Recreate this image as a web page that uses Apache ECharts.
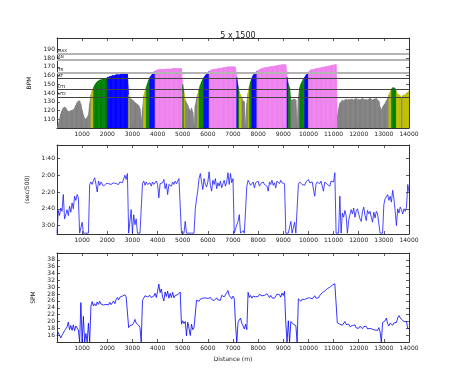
<!DOCTYPE html>
<html><head><meta charset="utf-8">
<script src="https://cdn.jsdelivr.net/npm/echarts@6/dist/echarts.min.js"></script>
<style>html,body{margin:0;padding:0;background:#fff}#c{width:455px;height:380px}</style>
</head><body><div id="c"></div>
<script>
// sample spacing (metres) of the series below
const STEP = 50;

// heart rate (bpm), one value every 50 m from 0 to 14000 m
const hr = [
100,104,110,116,120,123,124,123,120,119,119,120,120,121,123,126,129,131,131,127,
120,115,111,110,112,115,128,138,143,146,149,151,153,154,155,155,156,156,156,156,
158,158,159,159,160,160,160,161,161,161,161,162,162,162,162,163,163,138,134,133,
132,131,129,128,127,126,122,106,122,137,142,147,151,155,158,160,162,163,165,166,
166.5,167,167,167,167,167,167,167.5,167.5,167.5,167.5,167.5,168,168,168,168,168,168,168,168,
150,140,132,129,126,122,119,123,118,100,126,133,139,144,149,153,155.5,158,160,162,
163,165,166,166.5,167,167,167.5,167.5,168,168,168.5,168.5,169,169,169.5,169.5,170,170,170,170,
170,170,169.5,158,148,140,138,134,131,130,101,128,140,147,153,157,160,162,163,165,
166,167,167.5,168,168.5,169,169,169.5,169.5,170,170,170.5,170.5,171,171,171.5,171.5,172,172,172.5,
172.5,172.5,172.5,158,150,146,131,132,133,133,132,101,135,146,150,153,156,158,160,162,
164,165.5,166.5,167,167,167.5,168,168,168.5,168.5,169,169.5,169.5,170,170,170.5,171,171,171.5,172,
172,172.5,172.5,112,122,128,130,132,131,132,133,132,133,132,133,133,132,133,134,132,
133,132,133,134,133,132,133,132,133,134,133,132,133,133,134,132,131,124,120,124,
126,128,131,134,138,141,144.5,146,146,145,141,139,138,137,134,137,138,138,139,141,
142];

// pace (seconds per 500 m), every 50 m
const pace = [
189,162,168,159,163,143,172,167,161,168,157,164,153,160,145,150,143,147,189,189,
176,189,189,189,189,189,131,128,131,126,123,131,140,127,132,128,130,133,131,130,
131,130,128,131,130,129,131,130,129,131,128,126,129,127,120,125,118,189,189,161,
189,167,179,172,189,189,189,189,130,127,132,128,131,130,129,133,128,131,129,127,
131,147,130,132,129,125,136,130,143,131,129,133,128,131,127,130,128,124,126,189,
189,189,175,189,189,189,189,189,189,189,160,148,138,124,118,128,137,124,131,134,
128,116,132,139,126,131,124,136,129,133,127,135,130,126,133,128,117,131,118,129,
124,189,189,179,175,167,189,189,186,189,189,133,126,129,132,130,128,135,129,131,
127,133,130,132,128,131,129,133,139,128,131,126,132,129,135,127,125,130,126,129,
131,130,189,189,189,189,175,189,189,176,189,189,131,128,127,131,129,132,128,130,
125,129,131,128,130,145,131,128,126,130,127,129,139,128,126,131,129,133,127,125,
128,117,189,189,189,145,189,165,170,162,168,189,174,167,161,166,159,170,163,160,
166,172,175,163,158,168,174,162,166,163,170,176,164,171,163,166,165,189,189,189,
155,148,147,143,150,145,152,138,148,163,180,160,165,158,161,166,160,163,158,131,
140];

// stroke rate (strokes per minute), every 50 m
const spm = [
15.8,16.8,16.0,15.2,16.0,16.6,17.3,17.8,18.4,19.8,17.6,18.8,17.4,19.0,17.3,18.7,19.2,17.5,14,25.5,
14,21.5,14,16.5,14,19.5,14,24.5,25.8,24.5,25.2,24.6,25.7,25.0,25.9,25.1,25.4,24.8,25.3,25.0,
25.4,24.8,25.6,24.9,24.5,26.0,25.2,26.4,27.0,26.3,27.1,26.6,27.4,26.9,27.8,27.2,27.6,18.2,18.8,19.2,
19.0,19.6,20.6,19.5,19.9,18.9,18.2,14,26.2,26.8,27.5,28.0,27.2,26.8,27.6,27.0,26.6,27.4,28.2,27.0,
28.8,30.9,28.4,29.5,27.2,26.0,28.6,27.3,28.9,26.8,28.2,27.0,28.5,26.9,27.6,27.2,27.8,27.5,28.6,19.2,
20.2,19.4,20.0,15.8,19.8,18.0,15.9,19.2,17.6,18.2,17.8,26.2,26.6,25.9,26.5,26.2,26.8,26.3,26.9,26.4,
26.7,26.2,27.0,26.4,26.8,26.1,26.6,26.9,26.3,26.7,26.2,27.6,28.0,27.2,27.8,28.4,29.0,27.6,28.1,26.6,
27.4,26.8,19.2,14,19.7,20.4,21.0,19.5,18.7,17.8,19.2,17.6,28.5,27.0,27.6,26.8,27.4,27.9,27.2,27.7,
27.3,27.9,28.2,27.5,28.0,27.6,27.2,28.1,27.7,27.0,27.6,26.9,27.4,26.8,27.2,28.0,27.5,27.8,27.1,28.3,
27.6,28.8,19.5,14,20.2,14,20.0,19.8,19.2,19.4,18.8,14,26.6,26.2,25.9,26.5,26.0,26.4,26.2,26.8,
26.4,26.9,27.2,26.6,27.0,27.5,26.8,27.3,26.9,27.6,28.0,28.4,28.1,28.9,29.0,29.6,29.3,30.0,30.2,30.6,
31.0,31.0,31.1,19.6,19.9,19.2,19.6,18.9,19.4,20.0,19.1,18.7,19.2,18.5,18.2,18.8,18.4,19.0,18.1,18.5,
18.0,18.6,18.2,17.9,18.5,18.1,18.6,17.8,18.3,18.0,18.4,17.7,18.2,17.5,17.9,17.4,18.2,17.0,14,19.7,
19.6,20.2,21.0,19.4,18.7,19.5,19.2,18.9,19.6,19.1,19.7,21.0,21.7,21.2,20.6,20.4,20.0,19.7,20.0,18.0,
17.8];

// tick labels
const distTicks = [1000,2000,3000,4000,5000,6000,7000,8000,9000,10000,11000,12000,13000,14000];
const hrTicks = [110,120,130,140,150,160,170,180,190];
const paceTicks = [100,120,140,160,180];
const paceTickLabels = ['1:40','2:00','2:20','2:40','3:00'];
const spmTicks = [16,18,20,22,24,26,28,30,32,34,36,38];

// heart-rate zones
const zoneNames = ['UT2','UT1','AT','TR','AN','MAX'];
const zoneValues = [135.3,144,156.5,163.5,178,185];
const zoneFill = ['#808080','#bfbf00','#008000','#0000ff','#ee82ee','#ff0000','#ff0000'];

const HR_MIN = 100, HR_MAX = 203;
const AX = '#333', TXT = '#222', FONT = 'DejaVu Sans';

function zoneColor(v){
  for (let k = 0; k < zoneValues.length; k++) if (v < zoneValues[k]) return zoneFill[k];
  return zoneFill[zoneFill.length-1];
}

function xAx(g, top, named){
  const a = {
    type:'value', gridIndex:g, min:0, max:14000, position: top ? 'top' : 'bottom',
    axisLine:{show:true, onZero:false, lineStyle:{color:AX, width:1}},
    axisTick:{show:true, inside:true, length:3, customValues:distTicks, lineStyle:{color:AX, width:0.8}},
    axisLabel:{show:!top, customValues:distTicks, fontSize:6, color:TXT, margin:3, fontFamily:FONT,
      formatter: v => String(v)},
    splitLine:{show:false}
  };
  if (named){ a.name='Distance (m)'; a.nameLocation='middle'; a.nameGap=14;
    a.nameTextStyle={fontSize:6, color:TXT, fontFamily:FONT}; }
  return a;
}
function yAx(g, right, min, max, ticks, opts){
  const a = {
    type:'value', gridIndex:g, min:min, max:max, position: right ? 'right' : 'left',
    inverse: !!(opts && opts.inverse),
    axisLine:{show:true, onZero:false, lineStyle:{color:AX, width:1}},
    axisTick:{show:true, inside:true, length:3, customValues:ticks, lineStyle:{color:AX, width:0.8}},
    axisLabel:{show:!right, customValues:ticks, fontSize:6, color:TXT, margin:2, fontFamily:FONT,
      formatter: v => String(v)},
    splitLine:{show:false}
  };
  if (opts && opts.formatter) a.axisLabel.formatter = opts.formatter;
  if (!right && opts && opts.name){ a.name = opts.name; a.nameLocation='middle'; a.nameGap = opts.gap;
    a.nameTextStyle = {fontSize:6, color:TXT, fontFamily:FONT}; }
  return a;
}

const hrPolys = [];
for (let i = 0; i < hr.length-1; i++) hrPolys.push([i*STEP, hr[i], (i+1)*STEP, hr[i+1]]);

const chart = echarts.init(document.getElementById('c'), null, {renderer:'canvas'});
chart.setOption({
  animation:false,
  backgroundColor:'#fff',
  title:{text:'5 x 1500', left:233, top:27, textAlign:'center',
    textStyle:{fontSize:8, fontWeight:'normal', color:TXT, fontFamily:FONT}},
  grid:[
    {left:57, top:38, width:352, height:90},
    {left:57, top:145, width:352, height:89},
    {left:57, top:253, width:352, height:89}
  ],
  xAxis:[xAx(0,false), xAx(1,false), xAx(2,false,true), xAx(0,true), xAx(1,true), xAx(2,true)],
  yAxis:[
    yAx(0,false,HR_MIN,HR_MAX,hrTicks,{name:'BPM', gap:17}),
    yAx(1,false,84,190,paceTicks,{name:'(sec/500)', gap:20, inverse:true,
      formatter:v => paceTickLabels[paceTicks.indexOf(v)] || ''}),
    yAx(2,false,14,40,spmTicks,{name:'SPM', gap:13}),
    yAx(0,true,HR_MIN,HR_MAX,hrTicks),
    yAx(1,true,84,190,paceTicks,{inverse:true}),
    yAx(2,true,14,40,spmTicks)
  ],
  series:[
    {
      type:'custom', xAxisIndex:0, yAxisIndex:0, silent:true, clip:true,
      data: hrPolys, encode:{x:[0,2], y:[1,3]},
      renderItem:(params, api) => {
        const x0 = api.value(0), y0 = api.value(1), x1 = api.value(2), y1 = api.value(3);
        const col = zoneColor(y0);
        return {type:'polygon', shape:{points:[
          api.coord([x0,HR_MIN]), api.coord([x0,y0]), api.coord([x1,y1]), api.coord([x1,HR_MIN])]},
          style:{fill:col, stroke:col, lineWidth:0.6}};
      }
    },
    {
      type:'line', xAxisIndex:0, yAxisIndex:0, data:[], silent:true, z:5,
      markLine:{
        silent:true, symbol:['none','none'], animation:false,
        label:{show:true, position:'insideStartTop', formatter:'{b}', fontSize:4, color:TXT, distance:[1,1], fontFamily:FONT},
        data: zoneNames.map((n,i) => ({name:n, yAxis:zoneValues[i],
          lineStyle:{type:'solid', color: i>=3 ? '#b4b4b4' : '#444', width: i>=3 ? 2 : 1}}))
      }
    },
    {
      type:'line', xAxisIndex:1, yAxisIndex:1, silent:true, symbol:'none', clip:true,
      data: pace.map((v,i) => [i*STEP, v]),
      lineStyle:{color:'#1a1aff', width:0.8}
    },
    {
      type:'line', xAxisIndex:2, yAxisIndex:2, silent:true, symbol:'none', clip:true,
      data: spm.map((v,i) => [i*STEP, v]),
      lineStyle:{color:'#0000ff', width:0.8}
    }
  ]
});
</script>
</body></html>
